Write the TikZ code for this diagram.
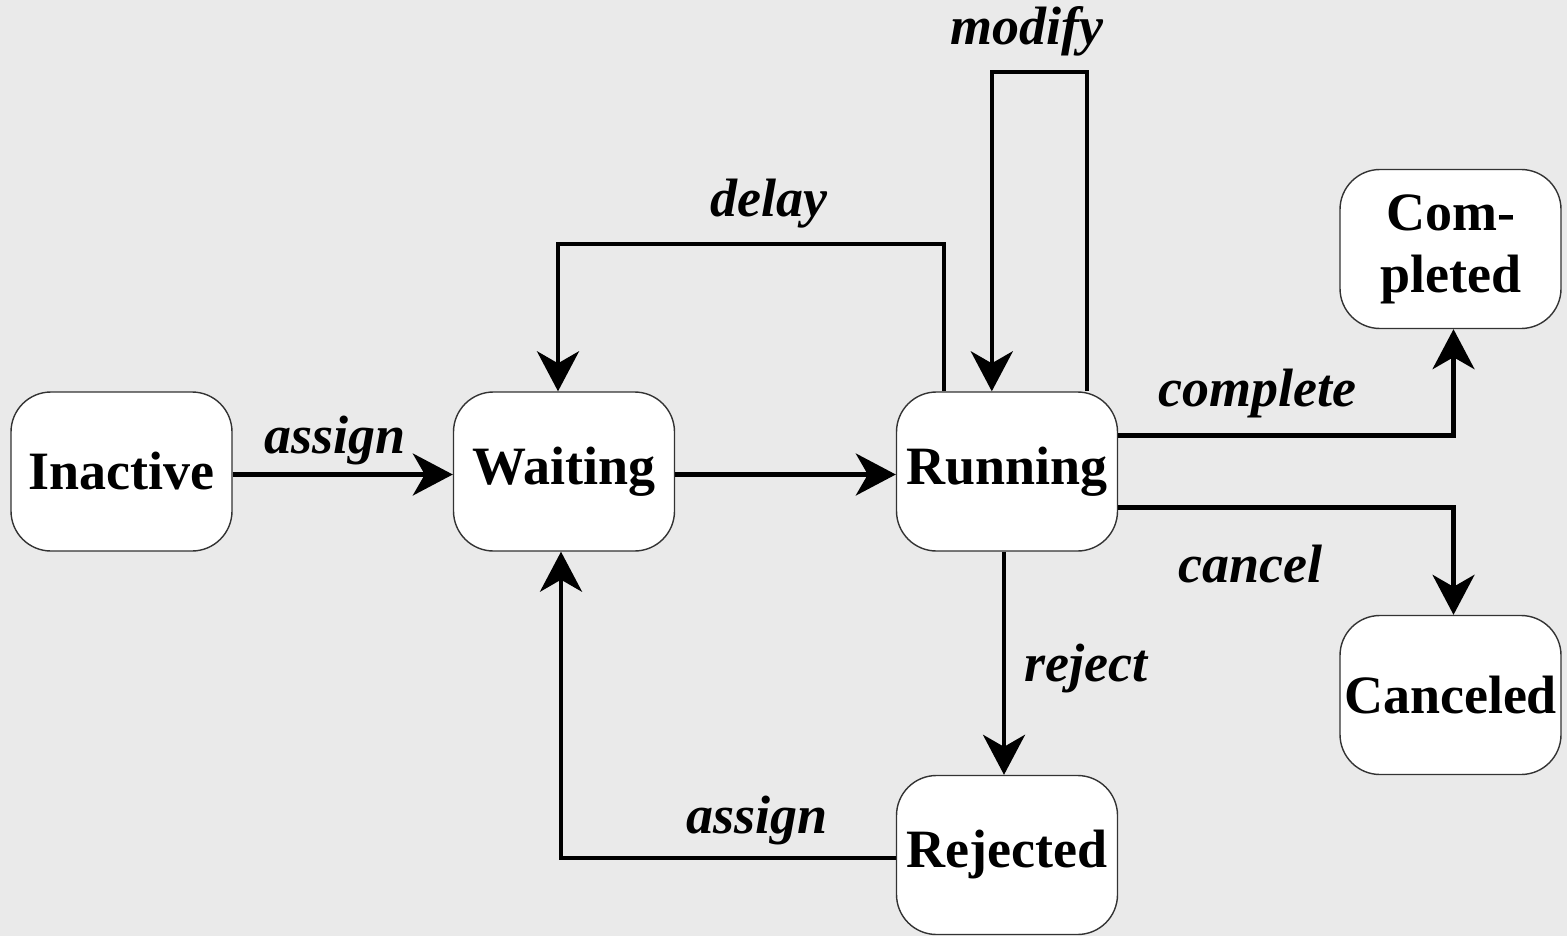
\documentclass[tikz,border=0pt]{standalone}
\usepackage{fontspec}
\setmainfont{Liberation Serif}
\usetikzlibrary{arrows.meta,calc}
\definecolor{bgcol}{HTML}{EAEAEA}
\begin{document}
\begin{tikzpicture}[x=0.5pt,y=-0.5pt,
  state/.style={draw=black!80,line width=0.7pt,fill=white,rounded corners=20pt,
    minimum width=110.5pt,minimum height=79.5pt,align=center,inner sep=0pt,
    font=\fontsize{27}{31}\selectfont\bfseries},
  lbl/.style={font=\fontsize{27}{31}\selectfont\bfseries\itshape,inner sep=0pt},
  arr/.style={line width=2.1pt,-{Stealth[length=20pt,width=21pt,inset=6pt]}}]
  \fill[bgcol] (0,0) rectangle (1567,936);
  \useasboundingbox (0,0) rectangle (1567,936);

  % states
  \node[state] (inact) at (121.5,471.5) {\raisebox{-1.5pt}{Inactive}};
  \node[state] (wait)  at (564,471.5)   {\raisebox{-1.5pt}{Waiting}};
  \node[state] (run)   at (1007,471.5)  {\raisebox{-1.5pt}{Running}};
  \node[state] (comp)  at (1450.5,249)  {Com-\\pleted};
  \node[state] (canc)  at (1450.5,695)  {\raisebox{-1.5pt}{Canceled}};
  \node[state] (rej)   at (1007,855)    {\raisebox{-1.5pt}{Rejected}};

  % transitions
  \draw[arr] ($(inact.east)+(0,3)$) -- ($(wait.west)+(0,3)$);
  \draw[arr] ($(wait.east)+(0,3)$) -- ($(run.west)+(0,3)$);
  \draw[arr] ($(run.north west)+(48,0)$) |- (558,244) -| ($(wait.north)+(-6,0)$);
  \draw[arr] ($(run.north east)+(-31,0)$) |- (993,72) -| ($(run.north west)+(96,0)$);
  \draw[arr] ($(run.east)+(0,-36)$) -| ($(comp.south)+(3,0)$);
  \draw[arr] ($(run.east)+(0,36)$) -| ($(canc.north)+(3,0)$);
  \draw[arr] ($(run.south)+(-3,0)$) -- ($(rej.north)+(-3,0)$);
  \draw[arr] ($(rej.west)+(0,3)$) -| ($(wait.south)+(-3,0)$);

  % transition labels
  \node[lbl] (l1) at (335,441) {assign};
  \node[lbl] (l2) at (769,204) {delay};
  \node[lbl] (l3) at (1027,31) {modify};
  \node[lbl] (l4) at (1257,394) {complete};
  \node[lbl] (l5) at (1250,564) {cancel};
  \node[lbl] (l6) at (1086,669) {reject};
  \node[lbl] (l7) at (757,821) {assign};
\end{tikzpicture}
\end{document}
